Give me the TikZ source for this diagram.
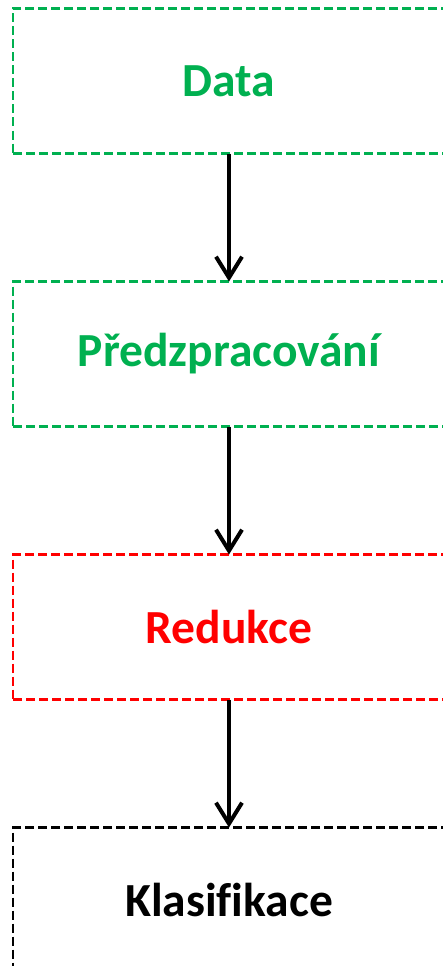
\documentclass[tikz,border=0pt]{standalone}
\usepackage{fontspec}
\setmainfont{Carlito}[Ligatures=CommonOff]
\usetikzlibrary{positioning,arrows.meta}
\definecolor{stagegreen}{RGB}{0,176,80}
\definecolor{stagered}{RGB}{255,0,0}

\begin{document}
\begin{tikzpicture}[
    x=1pt, y=1pt,
    node distance=128pt,
    stage/.style={rectangle, draw, dash pattern=on 9pt off 4pt, line width=2.3pt, outer sep=0pt, inner sep=0pt, minimum width=432pt, minimum height=145pt, font=\fontsize{47.5}{57}\selectfont\bfseries, align=center},
    goodstage/.style={stage, draw=stagegreen, text=stagegreen},
    redstage/.style={stage, draw=stagered, text=stagered},
    plainstage/.style={stage, draw=black, text=black},
    arrow/.style={-{Straight Barb[length=21pt, width=26pt]}, line width=4pt}
]
\useasboundingbox (0,0) rectangle (443,-966);
\clip (0,0) rectangle (443,-966);

% Processing chain
\node[goodstage] (data) at (229,-81) {Data};
\node[goodstage, below=of data] (prep) {Předzpracování};
\node[redstage, below=of prep] (reduce) {Redukce};
\node[plainstage, below=of reduce] (classify) {Klasifikace};

% Arrows
\draw[arrow] (data) -- (prep);
\draw[arrow] (prep) -- (reduce);
\draw[arrow] (reduce) -- (classify);

\end{tikzpicture}
\end{document}
